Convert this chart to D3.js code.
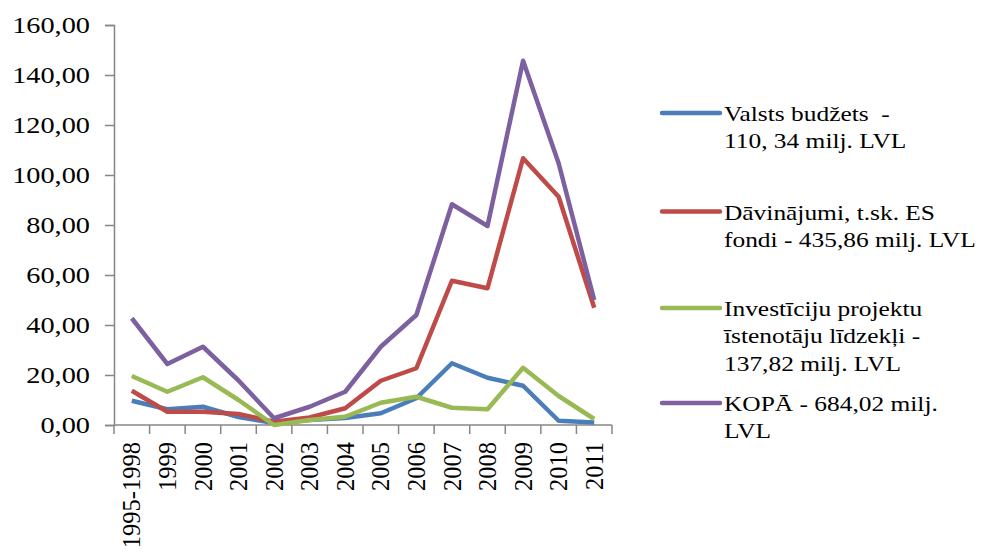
<!DOCTYPE html>
<html>
<head>
<meta charset="utf-8">
<script src="https://cdn.jsdelivr.net/npm/d3@7"></script>
<style>
  body { margin: 0; background: #fff; }
</style>
</head>
<body>
<svg id="chart" width="983" height="553"></svg>
<script>
// categories and series (milj. LVL)
const years = ["1995-1998","1999","2000","2001","2002","2003","2004","2005","2006","2007","2008","2009","2010","2011"];
const valsts = [9.7, 6.3, 7.3, 3.2, 0.8, 2.0, 2.8, 4.7, 10.7, 24.7, 18.9, 15.7, 1.7, 1.0];
const davinajumi = [13.7, 5.3, 5.3, 4.4, 1.3, 3.0, 6.7, 17.7, 22.7, 57.7, 54.7, 106.7, 91.3, 46.9];
const investiciju = [19.6, 13.3, 19.1, 10.0, 0.0, 2.0, 3.3, 8.9, 11.3, 6.9, 6.3, 22.9, 11.6, 2.4];
const kopa = [42.7, 24.4, 31.3, 17.8, 2.7, 7.3, 13.3, 31.3, 44.0, 88.3, 79.6, 145.7, 104.7, 50.0];
const yTicks = [0, 20, 40, 60, 80, 100, 120, 140, 160];

const series = [
  {name: ["Valsts budžets  -", "110, 34 milj. LVL"], values: valsts, color: "#4a7ebb"},
  {name: ["Dāvinājumi, t.sk. ES", "fondi - 435,86 milj. LVL"], values: davinajumi, color: "#be4b48"},
  {name: ["Investīciju projektu", "īstenotāju līdzekļi -", "137,82 milj. LVL"], values: investiciju, color: "#98b954"},
  {name: ["KOPĀ - 684,02 milj.", "LVL"], values: kopa, color: "#7d60a0"}
];

const FONT = "'Liberation Serif'";
const svg = d3.select("#chart");
const plotLeft = 114, plotRight = 612, plotTop = 25, plotBottom = 425;

const x = d3.scaleBand().domain(years).range([plotLeft, plotRight]);
const y = d3.scaleLinear().domain([0, 160]).range([plotBottom, plotTop]);

// y axis (labels a bit wide, like the original)
const yAxis = svg.append("g")
  .attr("transform", "translate(" + plotLeft + ",0)")
  .call(d3.axisLeft(y).tickValues(yTicks).tickSize(9).tickPadding(15)
    .tickFormat(d => d3.format(".2f")(d).replace(".", ",")));
yAxis.attr("font-family", null).attr("font-size", null);
yAxis.select(".domain").attr("stroke", "#868686").attr("stroke-width", 1.5);
yAxis.selectAll(".tick line").attr("stroke", "#868686").attr("stroke-width", 1.5);
yAxis.selectAll("text")
  .attr("x", 0)
  .attr("transform", "translate(-24,0) scale(1.18,1)")
  .style("font-family", FONT)
  .style("font-size", "24px")
  .attr("fill", "#000");

// x axis, ticks on band boundaries
const xAxis = svg.append("g")
  .attr("transform", "translate(0," + plotBottom + ")");
xAxis.append("line")
  .attr("x1", plotLeft).attr("x2", plotRight)
  .attr("stroke", "#868686").attr("stroke-width", 1.5);
xAxis.selectAll("line.tk")
  .data(years.concat(["end"]))
  .enter().append("line")
  .attr("class", "tk")
  .attr("x1", (d, i) => plotLeft + i * x.bandwidth())
  .attr("x2", (d, i) => plotLeft + i * x.bandwidth())
  .attr("y1", 0).attr("y2", 9)
  .attr("stroke", "#868686").attr("stroke-width", 1.5);
xAxis.selectAll("text")
  .data(years)
  .enter().append("text")
  .attr("transform", d => "translate(" + (x(d) + x.bandwidth() / 2) + ",17) rotate(-90)")
  .attr("text-anchor", "end")
  .attr("dy", "0.35em")
  .style("font-family", FONT)
  .style("font-size", "24.5px")
  .text(d => d);

// lines
const line = d3.line()
  .x((d, i) => x(years[i]) + x.bandwidth() / 2)
  .y(d => y(d));

svg.selectAll("path.series")
  .data(series)
  .enter().append("path")
  .attr("class", "series")
  .attr("d", d => line(d.values))
  .attr("fill", "none")
  .attr("stroke", d => d.color)
  .attr("stroke-width", 4.5)
  .attr("stroke-linejoin", "round");

// legend
const legendBase = [121, 219.5, 316, 411];
const lg = svg.selectAll("g.legend")
  .data(series)
  .enter().append("g")
  .attr("class", "legend")
  .attr("transform", (d, i) => "translate(662," + legendBase[i] + ")");
lg.append("line")
  .attr("x1", 0).attr("x2", 58)
  .attr("y1", -8).attr("y2", -8)
  .attr("stroke", d => d.color)
  .attr("stroke-width", 4.5)
  .attr("stroke-linecap", "round");
lg.each(function(d) {
  d3.select(this).append("g")
    .attr("transform", "translate(62,0) scale(1.24,1)")
    .selectAll("text")
    .data(d.name)
    .enter().append("text")
    .attr("x", 0)
    .attr("y", (t, j) => j * 27.5)
    .style("font-family", FONT)
    .style("font-size", "20.5px")
    .style("white-space", "pre")
    .text(t => t);
});
</script>
</body>
</html>
